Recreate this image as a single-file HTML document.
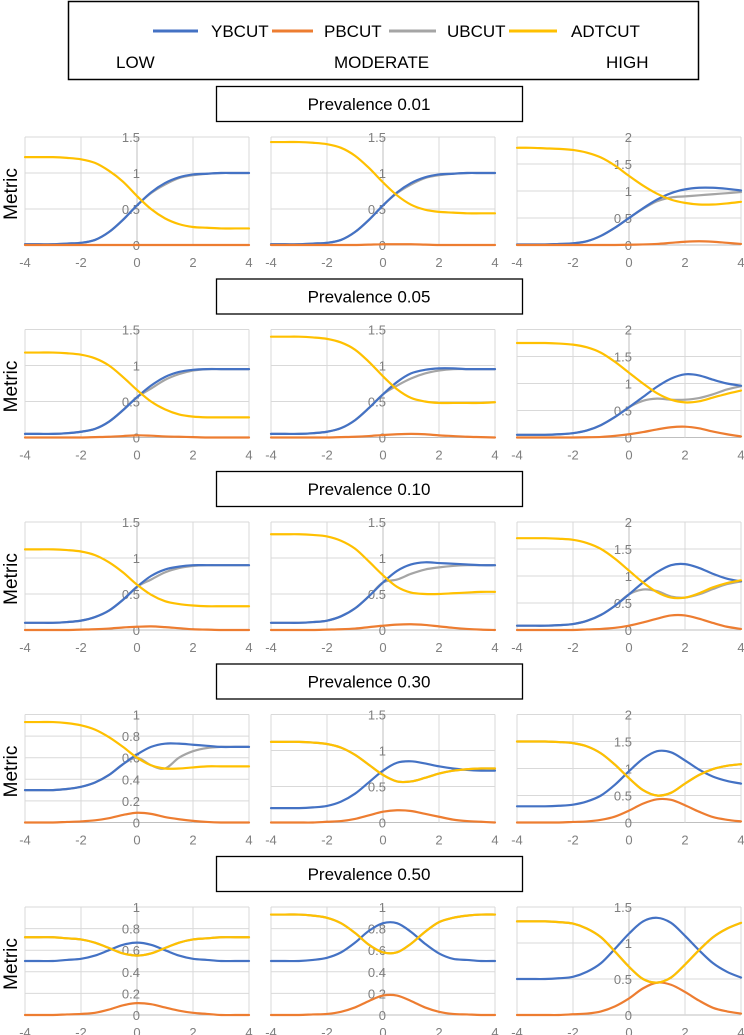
<!DOCTYPE html>
<html><head><meta charset="utf-8">
<style>
html,body{margin:0;padding:0;background:#fff;}
body{width:744px;height:1035px;position:relative;overflow:hidden;font-family:"Liberation Sans",sans-serif;}
svg{position:absolute;left:0;top:0;}
</style></head>
<body>
<svg id="fig" width="744" height="1035" viewBox="0 0 744 1035">
  <g>
    <rect x="68.5" y="1.5" width="630" height="78" fill="#fff" stroke="#000" stroke-width="1.5"/>
    <g><line x1="153" y1="31" x2="198" y2="31" stroke="#4472C4" stroke-width="3"/><text x="211" y="37" font-size="17">YBCUT</text></g>
    <g><line x1="272" y1="31" x2="313" y2="31" stroke="#ED7D31" stroke-width="3"/><text x="324" y="37" font-size="17">PBCUT</text></g>
    <g><line x1="389" y1="31" x2="436" y2="31" stroke="#A5A5A5" stroke-width="3"/><text x="447" y="37" font-size="17">UBCUT</text></g>
    <g><line x1="509" y1="31" x2="557" y2="31" stroke="#FFC000" stroke-width="3"/><text x="571" y="37" font-size="17">ADTCUT</text></g>
    <text x="116" y="68" font-size="17">LOW</text>
    <text x="334" y="68" font-size="17">MODERATE</text>
    <text x="606" y="68" font-size="17">HIGH</text>
  </g>
  <g id="charts"></g>
</svg>
<script>
const xValues=[-4,-3.5,-3,-2.5,-2,-1.5,-1,-0.5,0,0.5,1,1.5,2,2.5,3,3.5,4];
const prevalenceLabels=["Prevalence 0.01","Prevalence 0.05","Prevalence 0.10","Prevalence 0.30","Prevalence 0.50"];
const yMaxes=[[1.5,1.5,2],[1.5,1.5,2],[1.5,1.5,2],[1,1.5,2],[1,1,1.5]];
const ySteps=[[0.5,0.5,0.5],[0.5,0.5,0.5],[0.5,0.5,0.5],[0.2,0.5,0.5],[0.2,0.2,0.5]];
const xTicks=[-4,-2,0,2,4];

// Row 1 prevalence 0.01
const Y_1_1=[0.01,0.01,0.01,0.02,0.03,0.07,0.18,0.35,0.55,0.73,0.86,0.94,0.98,0.99,1.0,1.0,1.0];
const P_1_1=[0,0,0,0,0,0,0,0,0,0,0,0,0,0,0,0,0];
const U_1_1=[0.01,0.01,0.01,0.02,0.03,0.07,0.18,0.35,0.55,0.72,0.84,0.93,0.97,0.99,1.0,1.0,1.0];
const A_1_1=[1.22,1.22,1.22,1.21,1.19,1.14,1.03,0.88,0.68,0.5,0.37,0.29,0.25,0.24,0.23,0.23,0.23];
const Y_1_2=[0.01,0.01,0.01,0.02,0.03,0.07,0.18,0.35,0.55,0.73,0.86,0.94,0.98,0.99,1.0,1.0,1.0];
const P_1_2=[0,0,0,0,0,0,0,0.005,0.01,0.01,0.01,0.005,0,0,0,0,0];
const U_1_2=[0.01,0.01,0.01,0.02,0.03,0.07,0.18,0.35,0.55,0.72,0.84,0.93,0.97,0.99,1.0,1.0,1.0];
const A_1_2=[1.43,1.43,1.43,1.42,1.4,1.35,1.24,1.07,0.87,0.69,0.56,0.49,0.46,0.45,0.44,0.44,0.44];
const Y_1_3=[0.01,0.01,0.01,0.02,0.03,0.07,0.17,0.32,0.5,0.68,0.84,0.96,1.03,1.06,1.06,1.04,1.01];
const P_1_3=[0,0,0,0,0,0,0,0,0.005,0.01,0.02,0.04,0.06,0.07,0.06,0.04,0.02];
const U_1_3=[0.01,0.01,0.01,0.02,0.03,0.07,0.17,0.32,0.5,0.67,0.81,0.88,0.9,0.92,0.94,0.96,0.98];
const A_1_3=[1.8,1.8,1.79,1.78,1.76,1.71,1.62,1.47,1.28,1.1,0.95,0.84,0.78,0.75,0.75,0.77,0.8];
// Row 2 prevalence 0.05
const Y_2_1=[0.05,0.05,0.05,0.06,0.08,0.12,0.22,0.38,0.56,0.72,0.84,0.91,0.94,0.95,0.95,0.95,0.95];
const P_2_1=[0,0,0,0,0,0.005,0.01,0.02,0.03,0.025,0.015,0.01,0.005,0,0,0,0];
const U_2_1=[0.05,0.05,0.05,0.06,0.08,0.12,0.22,0.38,0.56,0.68,0.8,0.88,0.93,0.95,0.95,0.95,0.95];
const A_2_1=[1.18,1.18,1.18,1.17,1.15,1.1,1.0,0.84,0.66,0.5,0.39,0.32,0.29,0.28,0.28,0.28,0.28];
const Y_2_2=[0.05,0.05,0.05,0.06,0.08,0.13,0.24,0.41,0.6,0.77,0.89,0.94,0.96,0.96,0.95,0.95,0.95];
const P_2_2=[0,0,0,0,0,0.005,0.01,0.02,0.035,0.045,0.05,0.045,0.03,0.02,0.01,0.005,0];
const U_2_2=[0.05,0.05,0.05,0.06,0.08,0.13,0.24,0.41,0.6,0.72,0.82,0.89,0.93,0.95,0.95,0.95,0.95];
const A_2_2=[1.4,1.4,1.4,1.39,1.37,1.32,1.22,1.05,0.85,0.67,0.55,0.5,0.48,0.48,0.48,0.48,0.49];
const Y_2_3=[0.05,0.05,0.05,0.06,0.08,0.13,0.23,0.38,0.56,0.75,0.94,1.09,1.17,1.15,1.07,1.0,0.96];
const P_2_3=[0,0,0,0,0,0.005,0.01,0.03,0.06,0.1,0.15,0.19,0.2,0.17,0.11,0.06,0.02];
const U_2_3=[0.05,0.05,0.05,0.06,0.08,0.13,0.23,0.38,0.56,0.68,0.72,0.7,0.7,0.73,0.8,0.89,0.95];
const A_2_3=[1.75,1.75,1.75,1.74,1.72,1.67,1.57,1.4,1.2,1.0,0.82,0.7,0.65,0.67,0.74,0.81,0.87];
// Row 3 prevalence 0.10
const Y_3_1=[0.1,0.1,0.1,0.11,0.13,0.18,0.27,0.42,0.6,0.75,0.84,0.88,0.9,0.9,0.9,0.9,0.9];
const P_3_1=[0,0,0,0,0.005,0.01,0.02,0.035,0.045,0.05,0.04,0.025,0.01,0.005,0,0,0];
const U_3_1=[0.1,0.1,0.1,0.11,0.13,0.18,0.27,0.42,0.6,0.7,0.8,0.86,0.89,0.9,0.9,0.9,0.9];
const A_3_1=[1.12,1.12,1.12,1.11,1.09,1.04,0.94,0.8,0.63,0.49,0.4,0.36,0.34,0.33,0.33,0.33,0.33];
const Y_3_2=[0.1,0.1,0.1,0.11,0.13,0.19,0.3,0.47,0.66,0.82,0.91,0.94,0.93,0.92,0.91,0.9,0.9];
const P_3_2=[0,0,0,0,0.005,0.01,0.02,0.04,0.06,0.075,0.08,0.07,0.05,0.03,0.015,0.005,0];
const U_3_2=[0.1,0.1,0.1,0.11,0.13,0.19,0.3,0.47,0.66,0.7,0.78,0.84,0.87,0.89,0.9,0.9,0.9];
const A_3_2=[1.33,1.33,1.33,1.32,1.3,1.24,1.13,0.95,0.76,0.6,0.52,0.5,0.5,0.51,0.52,0.53,0.53];
const Y_3_3=[0.08,0.08,0.08,0.09,0.11,0.17,0.28,0.45,0.66,0.88,1.07,1.2,1.22,1.15,1.04,0.95,0.9];
const P_3_3=[0,0,0,0,0,0.01,0.02,0.04,0.08,0.14,0.21,0.27,0.27,0.21,0.13,0.06,0.02];
const U_3_3=[0.08,0.08,0.08,0.09,0.11,0.17,0.28,0.45,0.66,0.75,0.72,0.62,0.6,0.66,0.76,0.85,0.9];
const A_3_3=[1.7,1.7,1.7,1.69,1.67,1.61,1.5,1.32,1.1,0.88,0.7,0.6,0.6,0.68,0.79,0.87,0.92];
// Row 4 prevalence 0.30
const Y_4_1=[0.3,0.3,0.3,0.31,0.33,0.37,0.44,0.54,0.63,0.7,0.73,0.73,0.72,0.71,0.7,0.7,0.7];
const P_4_1=[0,0,0,0.005,0.01,0.02,0.04,0.07,0.09,0.08,0.05,0.03,0.015,0.005,0,0,0];
const U_4_1=[0.3,0.3,0.3,0.31,0.33,0.37,0.44,0.54,0.6,0.53,0.5,0.6,0.66,0.69,0.7,0.7,0.7];
const A_4_1=[0.93,0.93,0.93,0.92,0.9,0.86,0.79,0.7,0.6,0.53,0.5,0.5,0.51,0.52,0.52,0.52,0.52];
const Y_4_2=[0.2,0.2,0.2,0.21,0.23,0.29,0.4,0.56,0.72,0.83,0.85,0.82,0.78,0.75,0.73,0.72,0.72];
const P_4_2=[0,0,0,0,0.01,0.02,0.05,0.1,0.15,0.17,0.16,0.12,0.08,0.04,0.02,0.01,0];
const U_4_2=[1.12,1.12,1.12,1.11,1.09,1.04,0.94,0.8,0.66,0.57,0.57,0.62,0.68,0.72,0.74,0.75,0.75];
const A_4_2=[1.12,1.12,1.12,1.11,1.09,1.04,0.94,0.8,0.66,0.57,0.57,0.62,0.68,0.72,0.74,0.75,0.75];
const Y_4_3=[0.3,0.3,0.3,0.31,0.33,0.39,0.5,0.7,0.95,1.18,1.32,1.3,1.15,0.98,0.85,0.77,0.72];
const P_4_3=[0,0,0,0,0.01,0.02,0.05,0.11,0.22,0.35,0.43,0.42,0.32,0.2,0.1,0.05,0.02];
const U_4_3=[1.5,1.5,1.5,1.49,1.47,1.41,1.28,1.07,0.82,0.6,0.5,0.55,0.72,0.88,0.99,1.05,1.08];
const A_4_3=[1.5,1.5,1.5,1.49,1.47,1.41,1.28,1.07,0.82,0.6,0.5,0.55,0.72,0.88,0.99,1.05,1.08];
// Row 5 prevalence 0.50
const Y_5_1=[0.5,0.5,0.5,0.51,0.52,0.55,0.6,0.65,0.67,0.65,0.6,0.55,0.52,0.51,0.5,0.5,0.5];
const P_5_1=[0,0,0,0.005,0.01,0.02,0.05,0.09,0.11,0.1,0.07,0.04,0.02,0.01,0,0,0];
const U_5_1=[0.72,0.72,0.72,0.71,0.7,0.67,0.62,0.57,0.55,0.57,0.62,0.67,0.7,0.71,0.72,0.72,0.72];
const A_5_1=[0.72,0.72,0.72,0.71,0.7,0.67,0.62,0.57,0.55,0.57,0.62,0.67,0.7,0.71,0.72,0.72,0.72];
const Y_5_2=[0.5,0.5,0.5,0.51,0.53,0.58,0.67,0.78,0.85,0.85,0.77,0.66,0.57,0.52,0.51,0.5,0.5];
const P_5_2=[0,0,0,0.005,0.01,0.03,0.07,0.13,0.18,0.18,0.13,0.07,0.03,0.01,0.005,0,0];
const U_5_2=[0.93,0.93,0.93,0.92,0.9,0.85,0.76,0.65,0.58,0.58,0.66,0.77,0.86,0.9,0.92,0.93,0.93];
const A_5_2=[0.93,0.93,0.93,0.92,0.9,0.85,0.76,0.65,0.58,0.58,0.66,0.77,0.86,0.9,0.92,0.93,0.93];
const Y_5_3=[0.5,0.5,0.5,0.51,0.53,0.6,0.72,0.92,1.13,1.3,1.35,1.28,1.1,0.9,0.72,0.6,0.52];
const P_5_3=[0,0,0,0,0.01,0.02,0.05,0.12,0.23,0.37,0.45,0.42,0.32,0.2,0.1,0.05,0.02];
const U_5_3=[1.3,1.3,1.3,1.29,1.27,1.2,1.08,0.88,0.67,0.5,0.45,0.52,0.7,0.9,1.08,1.2,1.28];
const A_5_3=[1.3,1.3,1.3,1.29,1.27,1.2,1.08,0.88,0.67,0.5,0.45,0.52,0.7,0.9,1.08,1.2,1.28];

const seriesData=[
 [[Y_1_1,P_1_1,U_1_1,A_1_1],[Y_1_2,P_1_2,U_1_2,A_1_2],[Y_1_3,P_1_3,U_1_3,A_1_3]],
 [[Y_2_1,P_2_1,U_2_1,A_2_1],[Y_2_2,P_2_2,U_2_2,A_2_2],[Y_2_3,P_2_3,U_2_3,A_2_3]],
 [[Y_3_1,P_3_1,U_3_1,A_3_1],[Y_3_2,P_3_2,U_3_2,A_3_2],[Y_3_3,P_3_3,U_3_3,A_3_3]],
 [[Y_4_1,P_4_1,U_4_1,A_4_1],[Y_4_2,P_4_2,U_4_2,A_4_2],[Y_4_3,P_4_3,U_4_3,A_4_3]],
 [[Y_5_1,P_5_1,U_5_1,A_5_1],[Y_5_2,P_5_2,U_5_2,A_5_2],[Y_5_3,P_5_3,U_5_3,A_5_3]]
];
const seriesNames=["ybcut","pbcut","ubcut","adtcut"];
const seriesColors=["#4472C4","#ED7D31","#A5A5A5","#FFC000"];
const drawOrder=[2,0,1,3];
const colLeft=[25,271,517];
const plotW=224;
const NS="http://www.w3.org/2000/svg";
const root=document.getElementById('charts');
function mk(tag,attrs,parent){const e=document.createElementNS(NS,tag);for(const k in attrs)e.setAttribute(k,attrs[k]);parent.appendChild(e);return e;}
function smoothPath(pts){
  let d="M"+pts[0][0].toFixed(2)+","+pts[0][1].toFixed(2);
  for(let i=0;i<pts.length-1;i++){
    const p0=pts[Math.max(0,i-1)],p1=pts[i],p2=pts[i+1],p3=pts[Math.min(pts.length-1,i+2)];
    const c1x=p1[0]+(p2[0]-p0[0])/6,c1y=p1[1]+(p2[1]-p0[1])/6;
    const c2x=p2[0]-(p3[0]-p1[0])/6,c2y=p2[1]-(p3[1]-p1[1])/6;
    d+=" C"+c1x.toFixed(2)+","+c1y.toFixed(2)+" "+c2x.toFixed(2)+","+c2y.toFixed(2)+" "+p2[0].toFixed(2)+","+p2[1].toFixed(2);
  }
  return d;
}
for(let r=0;r<5;r++){
  const boxTop=86+192.5*r;
  const tb=mk('g',{},root);
  
  
  mk('rect',{x:216.5,y:boxTop+0.5,width:306,height:35,fill:'#fff',stroke:'#000','stroke-width':1.3},tb);
  const tt=mk('text',{x:369,y:boxTop+24,'font-size':17,'text-anchor':'middle'},tb);
  tt.textContent=prevalenceLabels[r];
  const ml=mk('text',{x:0,y:0,'font-size':19,'text-anchor':'middle',transform:'translate(17,'+(boxTop+108)+') rotate(-90)'},root);
  
  
  ml.textContent='Metric';
  const top=boxTop+51,bottom=boxTop+159;
  for(let c=0;c<3;c++){
    const g=mk('g',{},root);
    
    
    const L=colLeft[c],ymax=yMaxes[r][c],step=ySteps[r][c];
    const sx=v=>L+(v+4)/8*plotW;
    const sy=v=>bottom-v/ymax*(bottom-top);
    const nT=Math.round(ymax/step);
    for(let i=0;i<=nT;i++){
      const v=i*step;
      const gl=mk('line',{x1:L,x2:L+plotW,y1:sy(v),y2:sy(v),stroke:i===0?'#bfbfbf':'#d9d9d9','stroke-width':1},g);
      
      
    }
    xTicks.forEach(t=>{
      const vl=mk('line',{x1:sx(t),x2:sx(t),y1:top,y2:bottom,stroke:t===0?'#bfbfbf':'#d9d9d9','stroke-width':1},g);
      
      
      const lbl=mk('text',{x:sx(t),y:bottom+22,'font-size':13,fill:'#7f7f7f','text-anchor':'middle'},g);
      
      
      lbl.textContent=String(t);
    });
    for(let i=0;i<=nT;i++){
      const v=i*step;
      const lbl=mk('text',{x:sx(0)+3,y:sy(v)+5,'font-size':13,fill:'#7f7f7f','text-anchor':'end'},g);
      
      
      lbl.textContent=String(Math.round(v*10)/10);
    }
    drawOrder.forEach(s=>{
      const vals=seriesData[r][c][s];
      const pts=vals.map((v,i)=>[sx(xValues[i]),sy(v)]);
      const p=mk('path',{d:smoothPath(pts),fill:'none',stroke:seriesColors[s],'stroke-width':2.2,'stroke-linecap':'round'},g);
      
      
    });
  }
}
</script>
</body></html>
